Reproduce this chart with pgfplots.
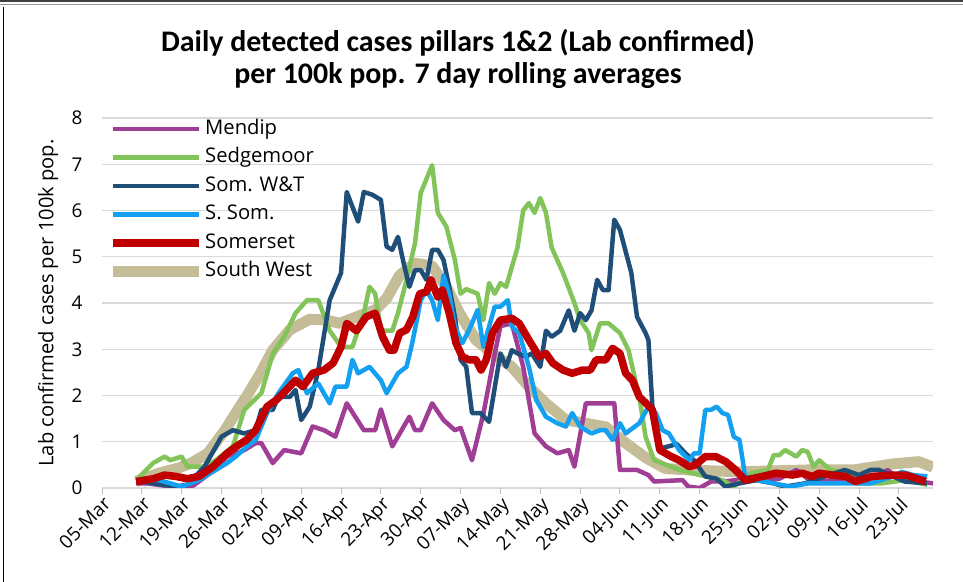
\documentclass[border=0pt]{standalone}
\usepackage{fontspec}
\setmainfont{Open Sans}
\newfontfamily\titlefont{Carlito}
\usepackage{pgfplots}
\pgfplotsset{compat=1.18}
\definecolor{cMendip}{RGB}{160,62,150}
\definecolor{cSedge}{RGB}{130,195,90}
\definecolor{cSomWT}{RGB}{31,78,121}
\definecolor{cSSom}{RGB}{20,160,240}
\definecolor{cSomerset}{RGB}{192,0,0}
\definecolor{cSW}{RGB}{196,189,151}
\definecolor{cGrid}{RGB}{217,217,217}
\definecolor{cAxis}{RGB}{191,191,191}
\begin{document}
\begin{tikzpicture}
\useasboundingbox (0bp,0bp) rectangle (963bp,582bp);
\draw[color=black!75, line width=1.6bp] (0bp,581.2bp) -- (963bp,581.2bp);
\draw[color=black!40, line width=1bp] (0bp,577.5bp) -- (963bp,577.5bp);
\draw[color=black, line width=0.9bp] (3.5bp,0bp) -- (3.5bp,575bp);
\node[font=\titlefont\bfseries\fontsize{30}{32}\selectfont, align=center] at (458bp,523bp)
  {Daily detected cases pillars 1\&2 (Lab confirmed)\\per 100k pop. 7 day rolling averages};
\begin{axis}[
  at={(102bp,94bp)}, anchor=south west,
  scale only axis, width=831bp, height=370bp,
  xmin=0, xmax=146, ymin=0, ymax=8,
  axis line style={draw=none},
  xtick={0,7,...,140},
  xticklabels={05-Mar,12-Mar,19-Mar,26-Mar,02-Apr,09-Apr,16-Apr,23-Apr,30-Apr,07-May,14-May,21-May,28-May,04-Jun,11-Jun,18-Jun,25-Jun,02-Jul,09-Jul,16-Jul,23-Jul},
  xtick pos=bottom,
  tick align=outside,
  x tick style={draw=cAxis, line width=1bp},
  major tick length=6bp,
  ytick={0,1,...,8},
  y tick style={draw=none},
  ymajorgrids,
  grid style={draw=cGrid, line width=1.3bp},
  /pgf/number format/assume math mode=true,
  ticklabel style={font=\fontsize{19}{22}\selectfont},
  yticklabel style={xshift=-10bp},
  xticklabel style={rotate=45, anchor=north east, inner sep=1bp},
  ylabel={Lab confirmed cases per 100k pop.},
  ylabel style={at={(axis description cs:-0.065,0.5)}, anchor=center, font=\fontsize{20.2}{24}\selectfont},
  legend image code/.code={\draw[#1] (0bp,0bp) -- (86bp,0bp);},
  legend style={at={(axis description cs:0.006,1.0)}, anchor=north west, draw=none, fill=none,
    font=\fontsize{20.3}{24}\selectfont, inner sep=0pt, row sep=6.5bp,
    nodes={inner sep=1bp, text height=15bp, text depth=5bp}},
  legend cell align=left,
  line join=round,
]
\draw[cAxis, line width=1bp] (axis cs:0,0) -- (axis cs:146,0);
% South West drawn first (behind)
\addplot[cSW, line width=11bp, forget plot] coordinates {
(6,0.14) (10,0.32) (13.4,0.43) (15.7,0.54) (18.6,0.75) (21.6,1.25) (24,1.72) (25.5,2.0) (27.7,2.45) (30,2.98) (33,3.42) (36.5,3.65) (39.4,3.63) (41.8,3.56) (44.7,3.7) (48,3.85) (50,4.1) (52.3,4.6) (55,4.86) (58,4.8) (60.5,4.35) (62.8,3.78) (65.7,3.2) (68.6,2.91) (72,2.62) (75,2.19) (78,1.83) (81.5,1.47) (85,1.4) (88.5,1.32) (92,0.97) (95.6,0.65) (99,0.42) (103,0.39) (112,0.35) (124,0.39) (132,0.39) (139,0.52) (143.5,0.57) (146,0.45)
};
\addplot[cMendip, line width=4.5bp] coordinates {
(6,0.1) (8,0.1) (11,0.05) (14,0.03) (16,0.05) (19,0.32) (22,0.68) (25,0.82) (27,0.97) (28,0.97) (30,0.54) (32,0.82) (35,0.75) (37,1.33) (39,1.25) (41,1.11) (43,1.83) (46,1.25) (48,1.25) (49,1.7) (51,0.9) (54,1.54) (55,1.25) (56,1.25) (58,1.83) (60,1.47) (62,1.25) (63,1.3) (65,0.6) (67,1.6) (69,2.9) (70,3.5) (72,3.56) (74,2.62) (76,1.18) (78,0.9) (80,0.75) (82,0.82) (83,0.46) (85,1.83) (90,1.83) (91,0.39) (94,0.39) (96,0.28) (97,0.14) (102,0.17) (103,0.03) (105,0) (107,0.14) (110,0.15) (113,0.2) (116,0.15) (119,0.2) (122,0.39) (124,0.2) (127,0.15) (130,0.2) (133,0.25) (136,0.2) (138,0.39) (140,0.2) (143,0.15) (146,0.1)
};
\addlegendentry{Mendip}
\addplot[cSedge, line width=4.5bp] coordinates {
(6,0.17) (9,0.54) (11,0.68) (12,0.6) (14,0.68) (15,0.46) (18,0.46) (20,0.6) (23,0.9) (25,1.69) (28,2.05) (30,2.9) (32,3.27) (34,3.78) (36,4.06) (38,4.06) (40,3.4) (42,3.05) (44,3.05) (46,3.78) (47,4.35) (48,4.2) (49,3.4) (51,3.4) (52,3.78) (53.5,4.5) (55,5.3) (56,6.38) (58,6.98) (59,5.95) (60.5,5.65) (62,4.93) (63,4.2) (64,4.3) (66,4.2) (67,3.63) (68,4.43) (69,4.2) (70,4.43) (71,4.35) (73,5.2) (74,6.0) (75,6.16) (76,5.95) (77,6.27) (78,5.95) (79,5.2) (81,4.65) (83,4.0) (84,3.63) (85.5,3.35) (86,2.98) (87.5,3.56) (89,3.56) (91,3.35) (92.5,2.98) (94.5,1.9) (95.5,1.11) (97,0.6) (100,0.46) (101.5,0.39) (105,0.28) (109,0.17) (111,0.03) (114,0.32) (117,0.39) (118,0.71) (119,0.71) (120,0.82) (122,0.68) (123,0.82) (124,0.78) (125,0.46) (126,0.6) (128,0.39) (131,0.32) (133,0.1) (137,0.1) (141,0.17) (145,0.07)
};
\addlegendentry{Sedgemoor}
\addplot[cSomWT, line width=4.5bp] coordinates {
(6,0.15) (9,0.1) (13,0.03) (15,0.07) (18,0.46) (21,1.11) (23,1.25) (25,1.18) (27,1.25) (28,1.69) (30,1.69) (31,1.97) (33,1.97) (34,2.12) (35,1.47) (36.5,1.76) (38,2.55) (40,4.06) (42,4.65) (43,6.4) (45,5.76) (46,6.4) (47.5,6.34) (49,6.23) (50,5.22) (51,5.15) (52,5.43) (53,4.86) (54,4.35) (55,4.71) (56,4.71) (57,4.5) (58,5.15) (59,5.15) (60,4.93) (61,4.35) (62,3.7) (63,2.77) (64,2.62) (65,1.62) (66.5,1.62) (68,1.43) (70,2.91) (71,2.62) (72,2.98) (73,2.91) (74.5,2.84) (75.5,2.91) (77,2.62) (78,3.4) (79,3.27) (80.5,3.4) (82,3.84) (83,3.4) (84,3.78) (85,3.63) (86,3.84) (87,4.5) (88,4.28) (89,4.28) (90,5.8) (91,5.58) (93,4.65) (94,3.7) (95.5,3.35) (96,3.2) (96.7,1.76) (98,0.85) (99.5,0.9) (101,0.95) (102.5,0.75) (104,0.6) (106,0.25) (108,0.2) (109.5,0.03) (112,0.1) (115,0.17) (118,0.1) (120,0.03) (123.5,0.1) (127,0.25) (130.5,0.39) (133,0.28) (135,0.39) (136.5,0.39) (139,0.25) (141,0.14) (145,0.1)
};
\addlegendentry{Som. W\&T}
\addplot[cSSom, line width=4.5bp] coordinates {
(6,0.17) (10,0.17) (12,0.1) (14,0.03) (17,0.17) (20,0.39) (22,0.54) (23.5,0.68) (25.5,0.9) (27,1.04) (29,1.62) (31,2.05) (33.5,2.48) (34.5,2.55) (36,2.05) (38,2.26) (40,1.83) (41,2.19) (43,2.19) (44,2.77) (45,2.48) (47,2.62) (49,2.33) (50,2.05) (52,2.48) (53.5,2.62) (54.5,3.13) (56,4.06) (57,4.28) (58,4.06) (59,3.63) (60,4.6) (61,4.2) (62,3.49) (63.3,3.13) (64.5,3.42) (66,3.85) (67,3.05) (69,3.92) (70,3.92) (71.3,4.06) (72,3.49) (73.3,3.35) (75,2.62) (76.3,1.9) (78,1.54) (80,1.4) (81.5,1.33) (82.6,1.62) (84,1.33) (85,1.25) (86,1.18) (87.5,1.25) (88.5,1.25) (89.7,1.04) (91,1.4) (92,1.18) (94.4,1.4) (96,1.76) (97.3,1.62) (98.5,1.25) (99.6,1.18) (101.4,0.82) (103.2,0.6) (104,0.75) (105,0.75) (106,1.69) (107,1.69) (108,1.76) (109,1.62) (110,1.58) (111,1.11) (112,1.04) (113,0.25) (115,0.17) (118,0.1) (121,0.03) (124,0.1) (131,0.1) (135,0.1) (139,0.25) (140.5,0.35) (142.5,0.28) (145,0.25)
};
\addlegendentry{S. Som.}
\addplot[cSomerset, line width=7.5bp] coordinates {
(6,0.14) (9,0.2) (11,0.28) (13,0.25) (15,0.2) (17,0.25) (19.5,0.46) (22,0.75) (23.6,0.9) (25.4,1.04) (27,1.25) (29,1.76) (30.6,1.9) (32.4,2.12) (34,2.33) (35.3,2.19) (37,2.48) (39,2.55) (40.6,2.7) (42,3.05) (43,3.56) (44.7,3.4) (46.4,3.7) (48,3.78) (49.3,3.27) (50.5,2.98) (51.3,2.98) (52.3,3.35) (53.5,3.42) (54.6,3.7) (55.8,4.2) (57,4.24) (57.8,4.5) (59,4.13) (59.8,4.28) (61,3.78) (62.2,3.13) (63.3,2.84) (64.5,2.77) (65.7,2.77) (66.6,2.55) (67.5,2.77) (68.6,3.35) (70,3.63) (72,3.67) (73.3,3.56) (75,3.2) (76.8,2.84) (78,2.91) (79.2,2.7) (81,2.55) (82.6,2.48) (84.4,2.55) (85.8,2.55) (86.8,2.77) (88.5,2.77) (89.7,3.02) (91,2.91) (92,2.48) (93.2,2.33) (94.4,1.97) (95.6,1.83) (96.7,1.69) (98,0.82) (100,0.68) (101.4,0.6) (103.2,0.46) (104.3,0.5) (106,0.68) (107.8,0.68) (109.6,0.57) (111.3,0.39) (113,0.17) (116,0.25) (118.4,0.32) (121.3,0.28) (123,0.32) (124.8,0.25) (126,0.32) (128.3,0.28) (130.6,0.25) (132.4,0.14) (135.3,0.25) (138.8,0.28) (141.2,0.28) (144.7,0.14)
};
\addlegendentry{Somerset}
\addlegendimage{cSW, line width=11bp}
\addlegendentry{South West}
\end{axis}
\end{tikzpicture}
\end{document}
